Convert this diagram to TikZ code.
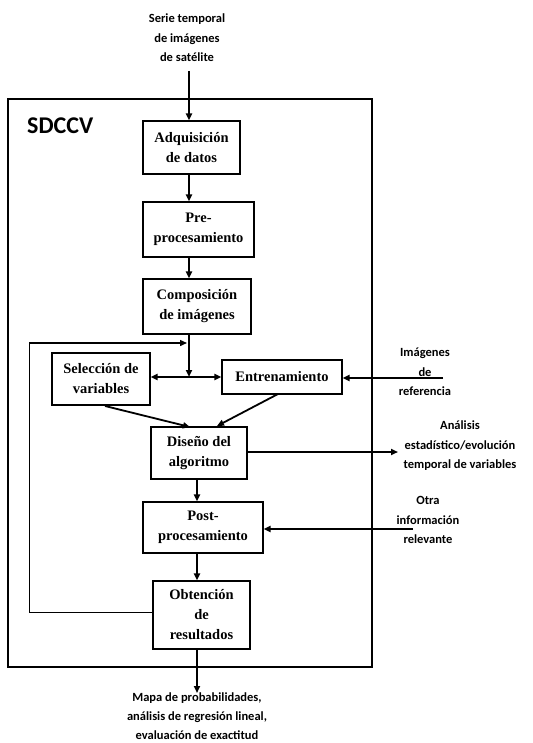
\documentclass[tikz,border=0pt]{standalone}
\usepackage{fontspec}
\setmainfont{Liberation Serif}
\newfontfamily\lblfont{Carlito}
\usetikzlibrary{arrows.meta,calc}
\begin{document}
\begin{tikzpicture}[x=1pt,y=-1pt,
  box/.style={draw,line width=1.1pt,align=center,inner sep=0pt,
    font=\fontsize{14.5}{20}\selectfont\bfseries},
  lbl/.style={align=center,inner sep=0pt,font=\lblfont\fontsize{12.5}{19.5}\selectfont\bfseries},
  arr/.style={line width=1.8pt,-{Triangle[length=7pt,width=6pt]}},
  thin/.style={line width=1pt}]
\useasboundingbox (0,0) rectangle (532,743);
% frame
\draw[line width=1.8pt] (8,99) rectangle (372,667);
\node[anchor=west,inner sep=0pt,font=\lblfont\fontsize{24}{24}\selectfont\bfseries] (title) at (27,126) {SDCCV};
% boxes
\node[box,minimum width=97pt,minimum height=53pt] (adq) at (191.5,147.5) {Adquisición\\de datos};
\node[box,minimum width=111pt,minimum height=55pt] (pre) at (198.5,229.5) {Pre-\\procesamiento};
\node[box,minimum width=108pt,minimum height=55pt] (comp) at (197,306.5) {Composición\\de imágenes};
\node[box,minimum width=98pt,minimum height=52pt] (sel) at (101,379) {Selección de\\variables};
\node[box,minimum width=120pt,minimum height=34pt] (ent) at (282,377) {Entrenamiento};
\node[box,minimum width=96pt,minimum height=52pt] (dis) at (199,453) {Diseño del\\algoritmo};
\node[box,minimum width=120pt,minimum height=51pt] (post) at (203,527.5) {Post-\\procesamiento};
\node[box,minimum width=97pt,minimum height=68pt] (obt) at (201.5,615) {Obtención\\de\\resultados};
% outside labels
\node[lbl] (serie) at (187,38) {Serie temporal\\de imágenes\\de satélite};
\node[lbl] (ref) at (425,372) {Imágenes\\de\\referencia};
\node[lbl] (anal) at (460,446) {Análisis\\estadístico/evolución\\temporal de variables};
\node[lbl] (otra) at (428,520) {Otra\\información\\relevante};
\node[lbl,font=\lblfont\fontsize{12.5}{19}\selectfont\bfseries] (mapa) at (197,716) {Mapa de probabilidades,\\análisis de regresión lineal,\\evaluación de exactitud};
% helper coordinates
\coordinate (cA) at (189,0);
\coordinate (cB) at (197,0);
\coordinate (inTop) at (189,71);
\coordinate (junc) at (189,377);
\coordinate (fbA) at (29,612);
\coordinate (fbB) at (29,343);
\coordinate (fbEnd) at (187,343);
\coordinate (refStart) at (443,378);
\coordinate (anlEnd) at (398,452);
\coordinate (otraStart) at (413,529);
\coordinate (outEnd) at (197,693);
\coordinate (selOut) at (105,406);
\coordinate (disIn1) at (190,427);
\coordinate (entOut) at (278,394);
\coordinate (disIn2) at (217,426);
% connectors
\draw[arr] (inTop) -- (adq.north -| cA);
\draw[arr] (adq.south -| cA) -- (pre.north -| cA);
\draw[arr] (pre.south -| cA) -- (comp.north -| cA);
\draw[arr] (comp.south -| cA) -- (junc);
\draw[arr] (junc) -- (sel.east |- junc);
\draw[arr] (junc) -- (ent.west |- junc);
\draw[arr] (refStart) -- (ent.east |- refStart);
\draw[arr] (selOut) -- (disIn1);
\draw[arr] (entOut) -- (disIn2);
\draw[arr] (dis.east |- anlEnd) -- (anlEnd);
\draw[arr] (dis.south -| cB) -- (post.north -| cB);
\draw[arr] (otraStart) -- (post.east |- otraStart);
\draw[arr] (post.south -| cB) -- (obt.north -| cB);
\draw[arr] (obt.south -| cB) -- (outEnd);
\draw[thin] (obt.west |- fbA) -- (fbA) -- (fbB);
\draw[line width=1.4pt,-{Triangle[length=7pt,width=6pt]}] (fbB) -- (fbEnd);
\end{tikzpicture}
\end{document}
